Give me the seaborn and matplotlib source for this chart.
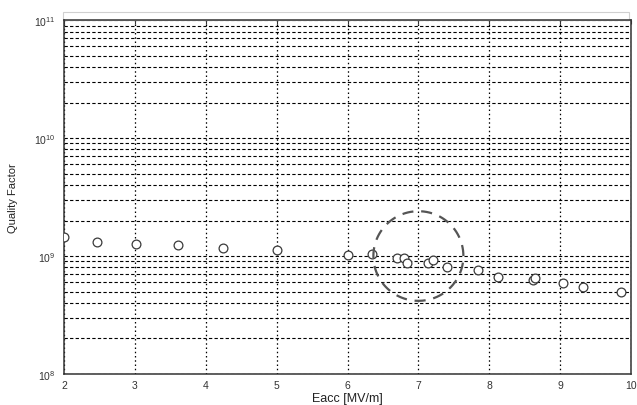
import numpy as np
import pandas as pd
import matplotlib
matplotlib.use("Agg")
import matplotlib.pyplot as plt
from matplotlib.patches import Rectangle
import seaborn as sns

# Accelerating field [MV/m] and measured quality factor
eacc = [2.00, 2.46, 3.02, 3.61, 4.24, 5.01, 6.01, 6.34, 6.70, 6.79, 6.84,
        7.14, 7.21, 7.41, 7.84, 8.12, 8.62, 8.64, 9.04, 9.32, 9.86]
q0 = [1.45e9, 1.32e9, 1.26e9, 1.23e9, 1.18e9, 1.12e9, 1.03e9, 1.05e9, 0.96e9,
      0.97e9, 0.88e9, 0.87e9, 0.925e9, 0.81e9, 0.76e9, 0.67e9, 0.63e9, 0.65e9,
      0.59e9, 0.545e9, 0.50e9]

# Highlighted region (centre in data units, radii in x-units / decades)
circle_center = (7.0, 1.0e9)
circle_rx = 0.635
circle_rdec = 0.38

x_ticks = [2, 3, 4, 5, 6, 7, 8, 9, 10]
y_lim = (1e8, 1e11)

df = pd.DataFrame({"Eacc": eacc, "Q0": q0})

sns.set_style("white")
plt.rcParams["font.family"] = ["Liberation Sans", "DejaVu Sans"]

fig = plt.figure(figsize=(6.37, 4.06), dpi=100)
ax = fig.add_axes([0.1005, 0.0764, 0.8901, 0.8716])

ax.set_yscale("log")
ax.set_xlim(2, 10)
ax.set_ylim(*y_lim)
ax.set_xticks(x_ticks)

# Grid: dotted verticals, dashed horizontals at every decade subdivision
ax.set_axisbelow(True)
ax.xaxis.grid(True, which="major", color="black", linestyle=(0, (1.2, 2.2)), linewidth=0.9)
ax.yaxis.grid(True, which="both", color="black", linestyle=(0, (3, 2)), linewidth=0.8)

sns.scatterplot(data=df, x="Eacc", y="Q0", ax=ax, marker="o", s=40,
                facecolor="white", edgecolor="#3a3a3a", linewidth=0.9, zorder=3)

# Dashed circle drawn in screen-uniform units on the log axis
t = np.linspace(0, 2 * np.pi, 400)
cx = circle_center[0] + circle_rx * np.cos(t)
cy = 10 ** (np.log10(circle_center[1]) + circle_rdec * np.sin(t))
ax.plot(cx, cy, color="#555555", linewidth=1.6, linestyle=(0, (5, 3.5)), zorder=4)

ax.set_xlabel("Eacc [MV/m]", fontsize=9, color="#222222", labelpad=2)
ax.set_ylabel("Quality Factor", fontsize=8, color="#222222", labelpad=12)

ax.tick_params(axis="both", which="both", direction="in", colors="#333333",
               labelsize=7.5, top=True, right=False, length=3)
ax.tick_params(axis="y", which="minor", length=2)
ax.tick_params(axis="x", pad=4)
ax.tick_params(axis="y", pad=6)

for s in ax.spines.values():
    s.set_color("#333333")
    s.set_linewidth(1.1)

# Faint frame just above the plot area
ax.add_patch(Rectangle((-0.002, 1.0), 0.999, 0.023, transform=ax.transAxes,
                       fill=False, edgecolor="#d0d0d0", linewidth=0.8, clip_on=False))

fig.savefig("out.png", dpi=100)
